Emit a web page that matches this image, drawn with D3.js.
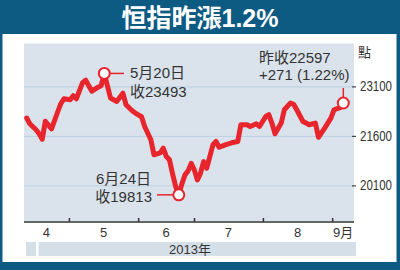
<!DOCTYPE html>
<html>
<head>
<meta charset="utf-8">
<script src="https://cdn.jsdelivr.net/npm/d3@7"></script>
<style>
  html, body { margin: 0; padding: 0; background: #0d5a82; }
  svg { display: block; }
</style>
</head>
<body>
<div id="chart"></div>
<script>
// trading-day index (0 = mid April 2013) and HSI close
const dayIdx = [0, 1, 3, 4, 5, 6, 8, 10, 11, 12, 14, 15, 16, 18, 19, 21, 23, 24, 25,
  27, 29, 31, 32, 34, 35, 37, 38, 40, 41, 43, 44, 45, 46, 47, 48, 49,
  50, 51, 52, 53, 54, 55, 56, 57, 58, 59, 60, 61, 62, 64, 66, 68, 69, 71, 72,
  74, 75, 77, 78, 79, 80, 82, 83, 85, 86, 87, 89, 90, 91, 93, 94, 96, 98, 99, 100, 101, 102];
const closes = [22140, 21967, 21785, 21663, 21496, 22043, 21815, 22332, 22575, 22726,
  22696, 22818, 22726, 23212, 23288, 22954, 23076, 23121, 23493,
  22748, 22644, 22893, 22544, 22362, 22292, 22180, 21885, 21481, 21026, 21086,
  21229, 20974, 20874, 20449, 20063, 19813,
  20145, 20418, 20540, 20768, 20570, 20266, 20470, 20822, 20622, 20974, 21329,
  21430, 21254, 21329, 21390, 21430, 21937, 21937, 21885, 21967, 21885, 22189,
  22241, 21988, 21663, 21988, 22392, 22596, 22559, 22392, 22037, 21988, 21937,
  21988, 21557, 21837, 22140, 22392, 22423, 22453, 22597];

// month boundaries (trading-day index) and month labels
const monthStarts = [13.6, 35.9, 53.9, 76.1, 98.4];
const monthLabels = ["4", "5", "6", "7", "8", "9月"];
const yTicks = [20100, 21600, 23100];

const width = 400, height = 270;
const plot = { left: 24, right: 354, top: 43.5, bottom: 222 };

const xScale = d3.scaleLinear().domain([0, 102]).range([26.7, 343.3]);
const yScale = d3.scaleLinear().domain([18990, 24400]).range([plot.bottom, plot.top]);

const svg = d3.select("#chart").append("svg")
  .attr("width", width).attr("height", height);

// frame
svg.append("rect").attr("width", width).attr("height", height).attr("fill", "#0d5a82");
svg.append("rect").attr("x", 2.5).attr("y", 34).attr("width", 394).attr("height", 228).attr("fill", "#fff");

svg.append("text")
  .attr("x", 200).attr("y", 27)
  .attr("text-anchor", "middle")
  .attr("fill", "#fff")
  .attr("font-family", "'Liberation Sans', 'Noto Sans CJK TC', sans-serif")
  .attr("font-weight", "bold")
  .attr("font-size", 25)
  .text("恒指昨漲1.2%");

// plot background
svg.append("rect")
  .attr("x", plot.left).attr("y", plot.top)
  .attr("width", plot.right - plot.left).attr("height", plot.bottom - plot.top)
  .attr("fill", "#dae3eb");

// grid + right axis
const rightAxis = d3.axisRight(yScale)
  .tickValues(yTicks)
  .tickFormat(d3.format("d"))
  .tickSize(0)
  .tickPadding(6);

const gy = svg.append("g")
  .attr("transform", `translate(${plot.right}, 0)`)
  .call(rightAxis);
gy.select(".domain").remove();
gy.selectAll(".tick text")
  .attr("font-family", "'Liberation Sans', sans-serif")
  .attr("font-size", 14)
  .attr("textLength", 32)
  .attr("lengthAdjust", "spacingAndGlyphs")
  .attr("fill", "#333");
gy.selectAll(".tick").append("line")
  .attr("x1", -(plot.right - plot.left)).attr("x2", 0)
  .attr("stroke", "#bcd0e2").attr("stroke-width", 1);
gy.selectAll(".tick").append("line")
  .attr("x1", -2).attr("x2", 2)
  .attr("stroke", "#444").attr("stroke-width", 1.2);

svg.append("text")
  .attr("x", 358).attr("y", 57)
  .attr("font-family", "'Noto Sans CJK TC', sans-serif")
  .attr("font-size", 13)
  .attr("fill", "#333")
  .text("點");

// bottom axis with month ticks
const bottomAxis = d3.axisBottom(xScale)
  .tickValues(monthStarts)
  .tickSize(-4)
  .tickSizeOuter(0)
  .tickFormat("");

const gx = svg.append("g")
  .attr("transform", `translate(0, ${plot.bottom})`)
  .call(bottomAxis);
gx.select(".domain")
  .attr("d", `M${plot.left},0H${plot.right}`)
  .attr("stroke", "#666").attr("stroke-width", 2);
gx.selectAll(".tick line").attr("stroke", "#333").attr("stroke-width", 1.5);

const bounds = [xScale.invert(plot.left)].concat(monthStarts, [xScale.invert(plot.right)]);
svg.append("g").selectAll("text")
  .data(monthLabels)
  .join("text")
    .attr("x", (d, i) => (xScale(bounds[i]) + xScale(bounds[i + 1])) / 2)
    .attr("y", 237)
    .attr("text-anchor", "middle")
    .attr("font-family", "'Liberation Sans', 'Noto Sans CJK TC', sans-serif")
    .attr("font-size", 13)
    .attr("fill", "#333")
    .text(d => d);

// year band
svg.append("rect").attr("x", 26).attr("y", 242).attr("width", 10).attr("height", 14).attr("fill", "#d5dfe8");
svg.append("rect").attr("x", 38.5).attr("y", 242).attr("width", 317.5).attr("height", 14).attr("fill", "#d5dfe8");
svg.append("text")
  .attr("x", 190).attr("y", 254)
  .attr("text-anchor", "middle")
  .attr("font-family", "'Liberation Sans', 'Noto Sans CJK TC', sans-serif")
  .attr("font-size", 13)
  .attr("fill", "#333")
  .text("2013年");

// index line
const data = dayIdx.map((d, i) => ({ day: d, close: closes[i] }));
const line = d3.line()
  .x(d => xScale(d.day))
  .y(d => yScale(d.close));

svg.append("path")
  .datum(data)
  .attr("d", line)
  .attr("fill", "none")
  .attr("stroke", "#e8242c")
  .attr("stroke-width", 5)
  .attr("stroke-linejoin", "round")
  .attr("stroke-linecap", "round");

// annotations
const hi = data.find(d => d.close === 23493);
const lo = data.find(d => d.close === 19813);
const last = data[data.length - 1];
const annFont = "'Liberation Sans', 'Noto Sans CJK TC', sans-serif";

svg.append("line")
  .attr("x1", xScale(hi.day)).attr("x2", 124)
  .attr("y1", yScale(hi.close)).attr("y2", yScale(hi.close))
  .attr("stroke", "#e8242c").attr("stroke-width", 1.5);
svg.append("line")
  .attr("x1", 157).attr("x2", xScale(lo.day))
  .attr("y1", yScale(lo.close)).attr("y2", yScale(lo.close))
  .attr("stroke", "#e8242c").attr("stroke-width", 1.5);
svg.append("line")
  .attr("x1", xScale(last.day)).attr("x2", xScale(last.day))
  .attr("y1", 88).attr("y2", yScale(last.close))
  .attr("stroke", "#e8242c").attr("stroke-width", 1.5);

svg.append("g").selectAll("circle")
  .data([hi, lo, last])
  .join("circle")
    .attr("cx", d => xScale(d.day))
    .attr("cy", d => yScale(d.close))
    .attr("r", 5.5)
    .attr("fill", "#fff")
    .attr("stroke", "#e8242c")
    .attr("stroke-width", 2);

const annotations = [
  { text: "5月20日", x: 130, y: 78, anchor: "start" },
  { text: "收23493", x: 130, y: 97, anchor: "start" },
  { text: "6月24日", x: 151, y: 184, anchor: "end" },
  { text: "收19813", x: 152, y: 202, anchor: "end" },
  { text: "昨收22597", x: 259, y: 63, anchor: "start" },
  { text: "+271 (1.22%)", x: 259, y: 80, anchor: "start" }
];
svg.append("g").selectAll("text")
  .data(annotations)
  .join("text")
    .attr("x", d => d.x)
    .attr("y", d => d.y)
    .attr("text-anchor", d => d.anchor)
    .attr("font-family", annFont)
    .attr("font-size", 15)
    .attr("fill", "#333")
    .text(d => d.text);
</script>
</body>
</html>
